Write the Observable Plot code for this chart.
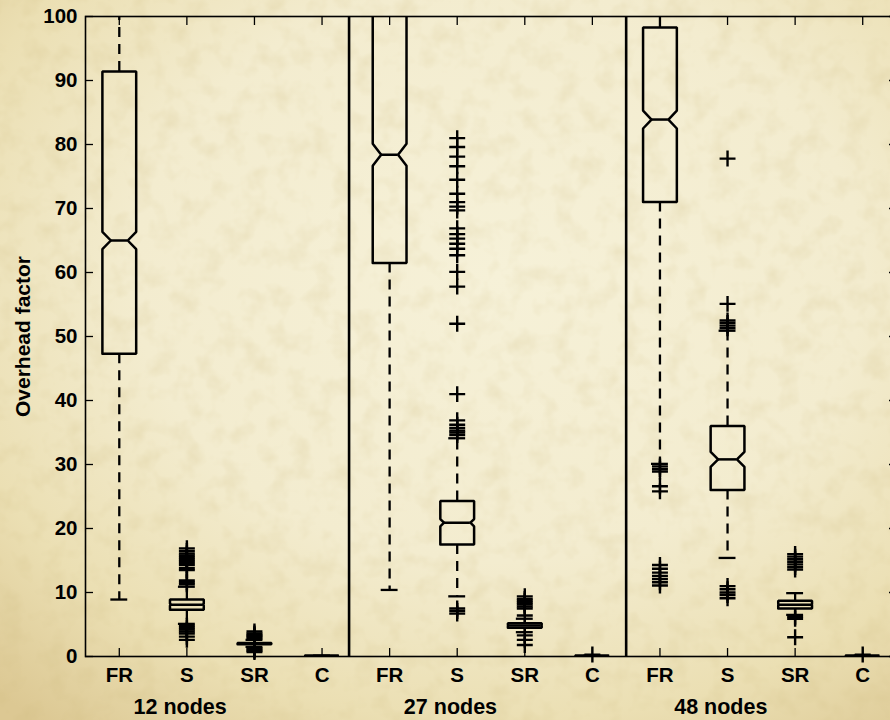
<!DOCTYPE html>
<html>
<head>
<meta charset="utf-8">
<script src="https://cdn.jsdelivr.net/npm/d3@7"></script>
<script src="https://cdn.jsdelivr.net/npm/@observablehq/plot@0.6"></script>
<style>
html, body { margin: 0; padding: 0; }
body {
  width: 890px; height: 720px; overflow: hidden;
  background-color: #efe5c0;
  background-image:
    url("data:image/svg+xml;utf8,<svg xmlns='http://www.w3.org/2000/svg' width='890' height='720'><filter id='n'><feTurbulence type='fractalNoise' baseFrequency='0.045' numOctaves='3' seed='11'/><feColorMatrix values='0 0 0 0 0.6  0 0 0 0 0.48  0 0 0 0 0.2  0 0 0 0.45 -0.2'/></filter><rect width='100%' height='100%' filter='url(%23n)'/></svg>"),
    radial-gradient(ellipse 82% 80% at 56% 38%, #f6f1d8 0%, #f3eccf 50%, #ebdfb3 78%, #dcc893 100%);
}
#chart { position: relative; width: 890px; height: 720px; }
</style>
</head>
<body>
<div id="chart"></div>
<script>
// ---- data ----
const groups = ["12 nodes", "27 nodes", "48 nodes"];
const methods = ["FR", "S", "SR", "C"];
const xTickLabels = ["FR", "S", "SR", "C", "FR", "S", "SR", "C", "FR", "S", "SR", "C"];
const groupLabelX = [0.9, 4.9, 8.9];
const dividerX = [3.4, 7.5];
const yTicks = [0, 10, 20, 30, 40, 50, 60, 70, 80, 90, 100];

//                 FR12  S12  SR12  C12   FR27  S27   SR27  C27   FR48  S48   SR48  C48
const whiskerLo = [8.9,  5.1, 1.5,  0.1,  10.4, 9.4,  3.8,  0.1,  30.1, 15.4, 6.5,  0.1];
const q1        = [47.3, 7.3, 1.9,  0.1,  61.5, 17.5, 4.5,  0.1,  71.0, 26.0, 7.5,  0.1];
const median    = [65.0, 8.1, 2.0,  0.1,  78.4, 20.9, 4.85, 0.1,  83.9, 30.8, 8.1,  0.1];
const q3        = [91.4, 8.9, 2.1,  0.1,  104,  24.3, 5.2,  0.1,  98.3, 36.0, 8.7,  0.1];
const whiskerHi = [106,  10.9, 2.6, 0.1,  125,  34.1, 5.9,  0.1,  104,  50.9, 9.9,  0.1];
const notchHalf = [1.36, 0.15, 0.03, 0,   1.72, 0.58, 0.06, 0,    1.4,  1.17, 0.08, 0];

const outliers = [
  [],
  [11.3, 11.6, 11.9, 13.5, 13.8, 14.3, 14.6, 14.9, 15.2, 15.5, 15.8, 16.1, 16.5, 16.9, 4.8, 4.5, 4.2, 3.9, 3.6, 3.1, 2.6],
  [2.8, 3.0, 3.2, 3.4, 3.6, 3.9, 1.3, 1.1, 0.9, 0.7],
  [],
  [],
  [34.6, 35.0, 35.3, 35.7, 36.2, 36.9, 41.0, 52.0, 57.8, 60.1, 62.7, 63.7, 64.5, 65.3, 66.0, 66.9, 69.7, 70.3, 71.0, 72.3, 74.5, 76.6, 78.1, 79.6, 81.0, 7.5, 7.1, 6.7],
  [6.4, 7.5, 7.8, 8.1, 8.4, 8.7, 9.0, 9.4, 3.3, 2.6, 1.8],
  [0.3],
  [29.7, 29.3, 28.9, 26.6, 25.8, 14.3, 13.7, 13.1, 12.6, 12.1, 11.6, 11.1],
  [51.3, 51.7, 52.1, 52.5, 55.1, 77.8, 11.0, 10.5, 10.0, 9.6, 9.1],
  [13.6, 14.0, 14.4, 14.8, 15.2, 15.6, 16.0, 6.2, 5.9, 3.0],
  [0.3]
];

// ---- layout ----
const W = 890, H = 720;
const mL = 85, mR = -6, mT = 16, mB = 64;
const pxPerY = (H - mT - mB) / 100;
const pxPerX = (W - mL - mR) / 12;
const boxHalf = 0.25, capHalf = 0.125;

const boxes = d3.range(12).map(i => {
  const n = notchHalf[i];
  const d = Math.min(boxHalf / 2, n * pxPerY / pxPerX);
  return {i, lo: whiskerLo[i], q1: q1[i], med: median[i], q3: q3[i], hi: whiskerHi[i], n, d};
});

const outline = boxes.flatMap(b => {
  const L = b.i - boxHalf, R = b.i + boxHalf;
  return [
    [L, b.q1], [L, b.med - b.n], [L + b.d, b.med], [L, b.med + b.n], [L, b.q3],
    [R, b.q3], [R, b.med + b.n], [R - b.d, b.med], [R, b.med - b.n], [R, b.q1], [L, b.q1]
  ].map(([x, y]) => ({box: b.i, x, y}));
});

const outlierData = boxes.flatMap(b => outliers[b.i].map(v => ({i: b.i, v})));

const ink = "#000";

const chart = Plot.plot({
  width: W, height: H,
  marginLeft: mL, marginRight: mR, marginTop: mT, marginBottom: mB,
  x: {type: "linear", domain: [-0.5, 11.5]},
  y: {type: "linear", domain: [0, 100]},
  style: {
    background: "transparent",
    fontFamily: "'Liberation Sans', Arial, Helvetica, sans-serif",
    fontSize: "20px", fontWeight: "bold", color: "black", overflow: "visible"
  },
  marks: [
    Plot.frame({stroke: ink, strokeWidth: 1.6}),
    Plot.axisY(yTicks, {anchor: "left", tickSize: -8, tickPadding: 16, label: null, strokeWidth: 1.3, fontSize: 20.5, fontWeight: "bold"}),
    Plot.axisY(yTicks, {anchor: "right", tickSize: -8, fill: "none", label: null, strokeWidth: 1.3}),
    Plot.axisX(d3.range(12), {anchor: "bottom", tickSize: -8, tickPadding: 19, tickFormat: i => xTickLabels[i], label: null, strokeWidth: 1.3, fontSize: 20.5, fontWeight: "bold"}),
    Plot.axisX(d3.range(12), {anchor: "top", tickSize: -8, fill: "none", label: null, strokeWidth: 1.3}),
    Plot.ruleX(dividerX, {x: d => d, stroke: ink, strokeWidth: 2.6}),
    // whiskers
    Plot.ruleX(boxes, {x: "i", y1: "q3", y2: "hi", stroke: ink, strokeWidth: 2.3, strokeDasharray: "10,7", clip: true}),
    Plot.ruleX(boxes, {x: "i", y1: "q1", y2: "lo", stroke: ink, strokeWidth: 2.3, strokeDasharray: "10,7", clip: true}),
    Plot.ruleY(boxes, {y: "hi", x1: d => d.i - capHalf, x2: d => d.i + capHalf, stroke: ink, strokeWidth: 2.3, clip: true}),
    Plot.ruleY(boxes, {y: "lo", x1: d => d.i - capHalf, x2: d => d.i + capHalf, stroke: ink, strokeWidth: 2.3, clip: true}),
    // notched boxes
    Plot.line(outline, {x: "x", y: "y", z: "box", stroke: ink, strokeWidth: 2.5, strokeLinejoin: "miter", clip: true}),
    Plot.ruleY(boxes, {y: "med", x1: d => d.i - boxHalf + d.d, x2: d => d.i + boxHalf - d.d, stroke: ink, strokeWidth: 2.5, clip: true}),
    // outliers
    Plot.dot(outlierData, {x: "i", y: "v", symbol: "plus", r: 5.2, stroke: ink, strokeWidth: 2.4}),
    // labels
    Plot.text(groups, {x: (d, k) => groupLabelX[k], frameAnchor: "bottom", lineAnchor: "middle", dy: 51, fontSize: 21.5, fontWeight: "bold", fill: ink}),
    Plot.text(["Overhead factor"], {frameAnchor: "left", textAnchor: "middle", dx: -62, rotate: -90, fontSize: 21, fontWeight: "bold", fill: ink})
  ]
});

document.getElementById("chart").appendChild(chart);
</script>
</body>
</html>
